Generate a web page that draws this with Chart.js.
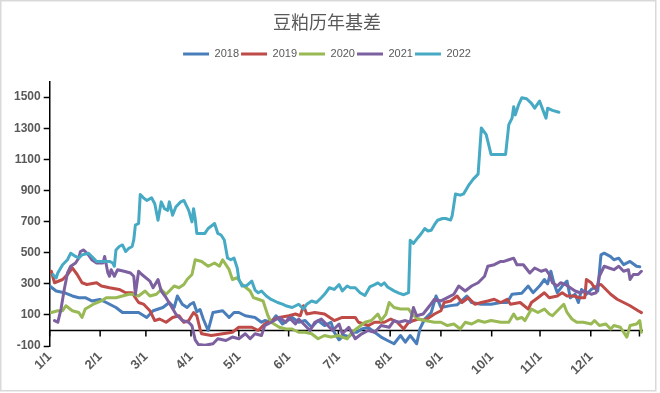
<!DOCTYPE html>
<html>
<head>
<meta charset="utf-8">
<script src="https://cdn.jsdelivr.net/npm/chart.js@4.4.0/dist/chart.umd.min.js"></script>
<style>
  html, body { margin: 0; padding: 0; background: #fff; }
  canvas { display: block; }
</style>
</head>
<body>
<canvas id="myChart" width="660" height="393"></canvas>
<script>
// x positions are day-of-year, month ticks at the positions the original axis used
const monthLabels = ['1/1', '2/1', '3/1', '4/1', '5/1', '6/1', '7/1', '8/1', '9/1', '10/1', '11/1', '12/1'];
const monthPos = [0, 31.2, 59.5, 87.4, 117, 147.8, 178.6, 210.6, 242, 273.4, 303.3, 334.7];
const endTick = 364.8;
const yTicks = [-100, 100, 300, 500, 700, 900, 1100, 1300, 1500];

const d2018 = [0, 4, 9, 14, 18, 22, 26, 31, 35, 41, 45, 49, 55, 60, 64, 70, 74, 77, 79, 82, 85, 87, 89, 91, 93, 95, 98, 101, 107, 111, 114, 117, 121, 127, 131, 133, 137, 140, 144, 150, 154, 158, 162, 166, 170, 174, 176, 179, 182, 185, 188, 190, 193, 197, 201, 205, 209, 213, 217, 220, 223, 227, 229, 232, 236, 239, 242, 248, 252, 258, 261, 267, 273, 279, 283, 286, 292, 296, 299, 303, 306, 308, 310, 312, 314, 317, 320, 322, 325, 327, 329, 332, 335, 337, 339, 341, 343, 345, 347, 349, 352, 355, 359, 363, 365];
const v2018 = [286, 254, 243, 222, 211, 211, 190, 200, 180, 148, 116, 116, 116, 84, 127, 148, 180, 148, 222, 169, 148, 169, 180, 120, 135, 74, 0, 116, 127, 84, 116, 116, 95, 84, 53, 64, 53, 95, 42, 84, 53, 64, 21, 64, 32, 53, -11, -60, -30, -40, -11, -11, 10, 20, -11, -42, -64, -85, -32, -75, -32, -85, 10, 74, 116, 222, 148, 160, 165, 222, 180, 169, 169, 180, 180, 233, 240, 286, 243, 286, 328, 300, 381, 300, 243, 286, 318, 211, 233, 180, 264, 233, 264, 275, 254, 486, 497, 486, 475, 455, 465, 423, 444, 413, 410];

const d2019 = [1, 3, 8, 11, 14, 17, 20, 23, 29, 32, 37, 43, 47, 51, 53, 55, 58, 62, 65, 68, 72, 76, 80, 83, 86, 89, 91, 93, 94, 100, 107, 113, 117, 125, 129, 133, 137, 142, 148, 152, 155, 157, 159, 164, 170, 176, 181, 189, 191, 197, 201, 207, 211, 215, 219, 222, 228, 232, 238, 242, 244, 248, 252, 255, 259, 263, 267, 271, 275, 279, 283, 285, 291, 296, 298, 302, 306, 309, 314, 317, 320, 324, 328, 331, 332, 335, 337, 339, 341, 343, 347, 351, 355, 359, 364, 366];
const v2019 = [381, 307, 328, 360, 402, 360, 307, 296, 307, 286, 275, 264, 243, 243, 211, 180, 170, 127, 64, 74, 53, 84, 95, 53, 64, 116, 95, 10, -21, -32, -21, -11, 21, 21, 0, 42, 64, 84, 95, 106, 95, 159, 106, 116, 106, 64, 84, 84, 53, 32, 53, 53, 74, 53, 10, 53, 74, 64, 106, 127, 180, 190, 222, 180, 211, 169, 180, 190, 201, 180, 201, 169, 180, 138, 180, 211, 243, 211, 222, 243, 222, 222, 211, 211, 328, 307, 275, 290, 296, 275, 233, 201, 180, 159, 127, 115];

const d2020 = [1, 5, 8, 10, 14, 18, 20, 22, 27, 32, 35, 41, 45, 49, 52, 55, 59, 62, 66, 69, 72, 74, 77, 80, 83, 85, 88, 90, 94, 98, 102, 105, 107, 111, 113, 116, 119, 124, 126, 129, 132, 135, 137, 142, 146, 150, 154, 158, 162, 166, 170, 174, 179, 181, 184, 187, 191, 195, 199, 203, 205, 208, 210, 213, 217, 222, 224, 228, 232, 238, 242, 246, 250, 254, 257, 261, 265, 269, 273, 279, 284, 287, 289, 292, 294, 298, 302, 306, 309, 311, 314, 316, 318, 320, 323, 326, 330, 335, 337, 340, 344, 347, 349, 353, 357, 359, 363, 365, 366];
const v2020 = [116, 127, 127, 159, 127, 116, 84, 138, 169, 190, 211, 211, 222, 233, 233, 222, 254, 222, 233, 264, 233, 254, 286, 275, 296, 328, 360, 455, 444, 413, 434, 413, 455, 391, 328, 339, 296, 254, 211, 201, 190, 95, 53, 21, 10, 10, -11, -11, -21, -53, -32, -42, -32, -42, -53, -11, 21, 53, 64, 106, 64, 106, 180, 148, 138, 138, 106, 74, 64, 53, 53, 32, 42, 10, 53, 42, 64, 53, 64, 53, 53, 106, 74, 84, 64, 138, 116, 138, 106, 95, 127, 148, 169, 116, 74, 53, 53, 42, 64, 32, 42, 10, 32, 21, -42, 32, 42, 64, -11];

const d2021 = [3, 5, 7, 9, 11, 13, 16, 18, 19, 21, 24, 26, 29, 33, 34, 36, 37, 38, 40, 42, 46, 50, 52, 53, 55, 57, 62, 64, 67, 69, 72, 75, 78, 82, 86, 88, 90, 92, 96, 101, 104, 109, 113, 117, 121, 124, 127, 131, 133, 137, 142, 146, 148, 152, 154, 158, 161, 164, 168, 172, 175, 179, 181, 185, 189, 193, 197, 201, 205, 210, 213, 216, 220, 223, 225, 227, 231, 235, 238, 242, 246, 250, 253, 257, 261, 265, 269, 271, 275, 279, 281, 284, 287, 289, 293, 297, 300, 304, 307, 309, 311, 314, 316, 319, 322, 325, 328, 331, 335, 338, 340, 343, 346, 349, 352, 355, 358, 359, 361, 364, 366];
const v2021 = [64, 53, 138, 264, 370, 413, 434, 466, 508, 518, 486, 455, 434, 434, 476, 370, 349, 391, 349, 391, 381, 370, 349, 233, 381, 360, 318, 275, 328, 254, 211, 159, 106, 64, 53, 30, -60, -90, -95, -85, -53, -64, -42, -53, -21, -53, -21, -32, 32, 53, 84, 53, 84, 42, 74, 32, 0, 53, 74, 32, 0, 42, -21, 21, -53, -21, 0, -11, 32, 21, 64, 53, 64, 53, 148, 95, 106, 159, 201, 190, 211, 233, 286, 254, 286, 307, 349, 413, 423, 444, 444, 455, 465, 423, 423, 370, 402, 381, 391, 360, 307, 286, 307, 296, 275, 254, 243, 254, 233, 243, 349, 413, 402, 391, 413, 381, 391, 328, 360, 360, 381];

const d2022 = [2, 4, 5, 8, 11, 13, 16, 18, 20, 24, 27, 29, 33, 37, 39, 40, 41, 43, 45, 47, 49, 51, 52, 53, 55, 56, 58, 60, 63, 65, 67, 69, 71, 73, 74, 76, 78, 81, 83, 86, 88, 89, 90, 91, 96, 98, 102, 104, 106, 108, 110, 112, 114, 116, 117, 119, 122, 125, 127, 129, 131, 134, 137, 141, 144, 146, 150, 154, 157, 159, 162, 165, 168, 170, 173, 176, 179, 181, 184, 186, 189, 192, 195, 198, 201, 203, 205, 207, 209, 213, 216, 219, 222, 223, 225, 228, 230, 232, 234, 236, 238, 240, 243, 245, 248, 249, 251, 254, 256, 259, 262, 265, 267, 270, 273, 282, 284, 286, 287, 288, 290, 292, 295, 298, 300, 303, 305, 307, 308, 311, 315];
const v2022 = [360, 338, 370, 423, 455, 497, 476, 466, 486, 497, 466, 444, 444, 444, 434, 413, 518, 540, 550, 508, 529, 540, 582, 677, 688, 874, 853, 836, 853, 815, 709, 827, 783, 772, 827, 741, 794, 827, 836, 772, 698, 783, 720, 624, 624, 656, 688, 624, 614, 582, 466, 455, 466, 402, 330, 286, 290, 318, 260, 243, 254, 222, 200, 180, 170, 159, 148, 169, 138, 169, 190, 180, 211, 233, 275, 264, 296, 255, 286, 275, 275, 243, 225, 280, 295, 306, 290, 306, 280, 255, 240, 230, 243, 580, 560, 600, 625, 656, 640, 645, 680, 709, 720, 720, 710, 740, 878, 870, 878, 931, 973, 1005, 1302, 1259, 1132, 1132, 1323, 1365, 1439, 1386, 1450, 1496, 1490, 1460, 1429, 1475, 1420, 1365, 1429, 1415, 1403];

const years = ['2018', '2019', '2020', '2021', '2022'];
const colors = ['#4A7EBB', '#BE4B48', '#98B954', '#7D60A0', '#46AAC5'];
const allDays = [d2018, d2019, d2020, d2021, d2022];
const allVals = [v2018, v2019, v2020, v2021, v2022];

function points(days, vals) {
    return days.map((d, i) => ({ x: d, y: vals[i] }));
}

// zero axis line with month tick marks, like the original
const zeroAxis = {
    id: 'zeroAxis',
    beforeDatasetsDraw(chart) {
        const { ctx, chartArea, scales } = chart;
        const y0 = scales.y.getPixelForValue(0);
        ctx.save();
        ctx.strokeStyle = '#000';
        ctx.lineWidth = 1.5;
        ctx.beginPath();
        ctx.moveTo(chartArea.left, y0);
        ctx.lineTo(chartArea.right, y0);
        monthPos.concat([endTick]).forEach(v => {
            const px = scales.x.getPixelForValue(v);
            ctx.moveTo(px, y0);
            ctx.lineTo(px, y0 + 6);
        });
        ctx.stroke();
        ctx.restore();
    }
};

const frame = {
    id: 'frame',
    beforeDraw(chart) {
        const ctx = chart.ctx;
        ctx.save();
        ctx.fillStyle = '#fff';
        ctx.fillRect(0, 0, chart.width, chart.height);
        ctx.strokeStyle = '#D9D9D9';
        ctx.lineWidth = 1.5;
        ctx.strokeRect(0.75, 0.75, 655, 390);
        ctx.restore();
    }
};

const ctx = document.getElementById('myChart').getContext('2d');
new Chart(ctx, {
    type: 'line',
    data: {
        datasets: years.map((y, i) => ({
            label: y,
            data: points(allDays[i], allVals[i]),
            borderColor: colors[i],
            backgroundColor: colors[i],
            borderWidth: 3,
            borderCapStyle: 'round',
            borderJoinStyle: 'round',
            pointRadius: 0,
            tension: 0,
            order: years.length - 1 - i
        }))
    },
    options: {
        responsive: false,
        animation: false,
        devicePixelRatio: 1,
        layout: { padding: { left: 11, right: 17, top: 0, bottom: 12 } },
        plugins: {
            title: {
                display: true,
                text: '豆粕历年基差',
                color: '#595959',
                font: { family: '"Noto Sans CJK SC", sans-serif', size: 18, weight: 'normal' },
                padding: { top: 11, bottom: 14 }
            },
            subtitle: {
                display: true,
                text: '',
                weight: 500,
                font: { size: 10 },
                padding: 0
            },
            legend: {
                position: 'top',
                labels: {
                    usePointStyle: true,
                    pointStyle: 'line',
                    pointStyleWidth: 26,
                    padding: 2,
                    color: '#595959',
                    font: { family: '"Liberation Sans", Arial, sans-serif', size: 11 },
                    sort: (a, b) => a.datasetIndex - b.datasetIndex
                }
            },
            tooltip: { enabled: false }
        },
        scales: {
            x: {
                type: 'linear',
                min: 0,
                max: 367,
                afterBuildTicks: axis => { axis.ticks = monthPos.map(v => ({ value: v })); },
                ticks: {
                    autoSkip: false,
                    minRotation: 45,
                    maxRotation: 45,
                    padding: 3,
                    color: '#595959',
                    font: { family: '"Liberation Sans", Arial, sans-serif', size: 13, weight: 'bold' },
                    callback: (value, index) => monthLabels[index]
                },
                grid: { display: false, drawTicks: false },
                border: { display: false }
            },
            y: {
                min: -100,
                max: 1600,
                afterBuildTicks: axis => { axis.ticks = yTicks.map(v => ({ value: v })); },
                ticks: {
                    padding: 3,
                    color: '#595959',
                    font: { family: '"Liberation Sans", Arial, sans-serif', size: 12, weight: 'bold' },
                    callback: value => String(value)
                },
                grid: { drawOnChartArea: false, drawTicks: true, tickLength: 6, tickColor: '#000', tickWidth: 1.5 },
                border: { display: true, color: '#000', width: 1.5 }
            }
        }
    },
    plugins: [frame, zeroAxis]
});
</script>
</body>
</html>
